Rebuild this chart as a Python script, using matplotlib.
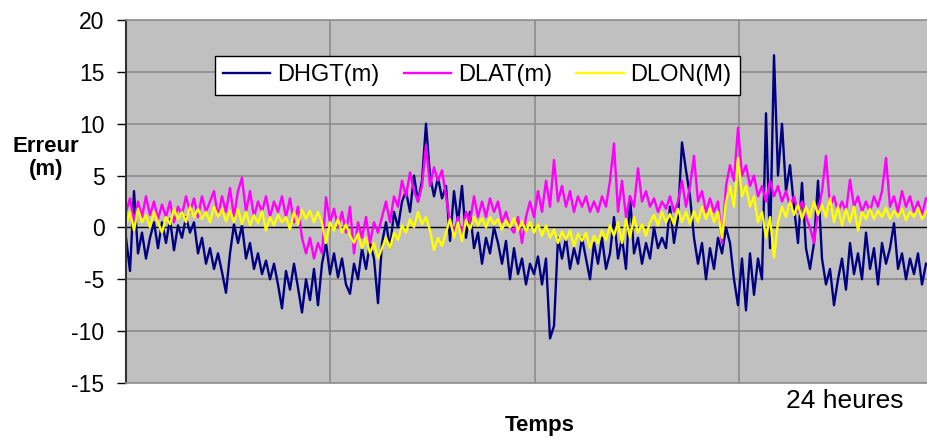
import numpy as np
import matplotlib
matplotlib.use("Agg")
import matplotlib.pyplot as plt

plt.rcParams["font.family"] = ["Liberation Sans", "DejaVu Sans"]

# one sample every ~7 minutes over the day
dhgt = [-1.0, -4.2, 3.5, -2.5, -0.5, -3.0, -1.0, 0.5, -2.0, 0.5,
        -1.5, 0.8, -2.2, 0.2, -1.0, 1.0, -0.5, 0.5, -2.5, -1.0,
        -3.5, -2.0, -4.0, -2.5, -4.3, -6.3, -2.5, 0.3, -1.5, 0.2,
        -3.0, -1.5, -4.0, -2.5, -4.5, -3.2, -5.0, -3.5, -5.5, -7.8,
        -4.2, -6.0, -3.5, -5.8, -8.2, -5.0, -7.0, -4.0, -7.5, -3.5,
        -1.5, -4.5, -2.5, -4.8, -3.0, -5.5, -6.4, -3.5, -5.0, -2.0,
        -4.0, -1.5, -3.0, -7.3, -1.5, 0.5, -2.0, 1.5, 0.0, 2.5,
        3.5, 1.5, 5.0, 2.5, 4.5, 10.0, 5.0, 3.0, 4.8, 2.8,
        4.0, -1.3, 3.5, 0.5, 4.0, -1.0, 1.5, -2.0, -0.5, -3.5,
        -1.0, -2.5, 0.0, -1.5, -3.5, -1.3, -5.0, -2.0, -4.5, -3.0,
        -5.5, -3.5, -4.5, -2.8, -5.5, -3.0, -10.7, -9.5, -1.0, -3.0,
        -1.0, -4.0, -2.0, -3.5, -1.0, -3.0, -5.0, -1.5, -3.5, -1.0,
        -4.0, -2.5, 1.0, -3.0, -1.0, -4.0, 3.0, -2.5, -1.0, -3.5,
        -1.5, -3.0, 0.0, -2.0, -1.0, -2.0, 2.0, -1.5, 1.0, 8.2,
        5.5, 3.0, -1.0, -3.5, -1.5, -5.0, -2.0, -4.0, -1.0, -2.5,
        0.0, -1.5, -5.0, -7.5, -3.0, -8.0, -2.5, -6.5, -3.0, -5.0,
        11.0, -2.0, 16.6, 5.0, 10.0, 3.5, 6.0, 2.0, -1.5, 4.3,
        -2.0, -4.0, -1.5, 4.5, -3.0, -5.5, -4.0, -7.5, -5.0, -3.0,
        -6.0, -1.5, -4.5, -2.5, -5.0, -0.5, -4.0, -2.0, -5.5, -1.5,
        -3.5, -2.0, 0.4, -4.0, -2.5, -5.0, -3.0, -4.5, -2.5, -5.5,
        -3.5]

dlat = [1.5, 2.8, 0.5, 2.5, 1.0, 3.0, 1.2, 2.5, 0.8, 2.2,
        1.0, 2.5, 0.5, 2.0, 1.2, 3.0, 1.5, 2.8, 1.0, 3.0,
        1.5, 2.5, 3.5, 1.0, 3.0, 1.5, 3.8, 1.0, 3.5, 4.8,
        1.5, 3.5, 1.0, 2.5, 1.5, 3.0, 1.0, 2.5, 1.5, 3.0,
        1.0, 2.8, 0.5, 2.0, -1.0, -2.5, -1.0, -3.0, -1.5, -2.5,
        2.9, 0.5, 1.8, 0.0, 1.5, -0.5, 2.0, -2.5, 0.5, -1.0,
        1.0, -1.5, 0.5, -0.5, 1.0, 2.5, 0.5, 3.0, 2.0, 4.5,
        3.0, 5.3, 3.5, 2.5, 4.0, 7.9, 4.0, 5.8, 4.5, 5.5,
        3.0, 0.5, -0.5, 1.0, -1.0, 1.5, 0.5, 3.0, 1.0, 2.5,
        1.0, 2.8, 1.5, 2.5, 0.5, 1.5, 0.0, -0.5, 1.0, -1.5,
        1.0, 2.5, 1.0, 3.5, 1.5, 4.5, 2.0, 6.5, 2.5, 4.0,
        2.0, 3.5, 1.5, 3.0, 2.0, 3.0, 1.5, 2.5, 1.5, 3.0,
        2.0, 4.5, 8.1, 1.5, 4.5, 1.0, 3.0, 2.0, 5.7, 2.5,
        3.5, 2.0, 2.8, 1.5, 2.5, 1.8, 3.0, 1.5, 2.5, 4.5,
        2.0, 4.0, 6.9, 2.5, 3.5, 1.5, 2.8, 1.5, 2.5, -1.5,
        4.0, 6.0, 4.5, 9.6, 5.0, 6.0, 4.0, 5.0, 3.0, 4.0,
        2.5, 4.5, 3.0, 4.0, 2.5, 3.5, 2.0, 3.0, 1.5, 2.5,
        1.0, 0.0, -1.5, 1.5, 3.5, 6.9, 2.0, 3.0, 1.5, 2.5,
        1.5, 4.6, 2.0, 3.0, 1.5, 2.5, 1.5, 3.0, 2.0, 3.5,
        6.7, 2.0, 3.0, 1.5, 3.5, 2.0, 3.0, 1.5, 2.5, 1.2,
        2.8]

dlon = [0.2, 1.5, -0.3, 1.8, 0.5, 1.2, 0.0, 1.5, 0.5, -0.5,
        1.0, 0.3, 1.8, 0.8, 1.5, 0.5, 2.0, 1.0, 1.8, 0.8,
        1.5, 0.5, 2.0, 1.0, 1.8, 0.6, 1.6, 0.5, 1.8, 0.3,
        1.5, 0.2, 1.2, 0.4, 1.6, -0.3, 1.0, 0.2, 1.2, 0.5,
        1.0, -0.2, 1.5, 0.3, 1.7, 0.8, 1.6, 0.5, 1.5, 0.4,
        -1.5, 0.5, -0.3, 0.8, -0.5, 0.3, -0.8, -1.5, -0.6, -2.0,
        -1.0, -2.5, -1.5, -3.0, -2.0, -1.0, -2.0, -0.5, -1.2, 0.2,
        -0.5, 0.8, 0.0, 1.5, 0.3, 1.0, -0.3, -2.2, -1.0, -1.8,
        -0.5, 0.8, -1.0, 0.5, -1.3, 0.7, -0.2, 1.0, 0.2, 0.9,
        0.0, 1.0, 0.3, 0.8, -0.2, 0.7, 0.0, 0.9, -0.3, 0.6,
        -0.4, 0.5, -0.5, 0.3, -0.8, 0.2, -1.0, -0.2, -1.5, -0.4,
        -1.2, -0.3, -1.8, -0.6, -1.3, -0.5, -2.0, -0.8, -1.5, -0.3,
        -1.2, 0.2, -0.8, 0.5, -1.5, 0.8, -1.0, 1.0, -0.5, 0.3,
        -0.8, 0.5, 1.2, 0.2, 1.5, 0.5, 1.3, 0.3, 1.8, 0.5,
        1.5, 0.3, 1.6, 0.5, 2.0, 0.8, 1.8, 0.5, 1.5, -1.0,
        2.5, 4.0, 2.0, 6.7, 3.0, 4.0, 2.0, 3.0, 0.5, 1.5,
        -1.0, 1.0, -2.9, 0.5, 2.0, 1.0, 2.5, 1.2, 2.2, 0.8,
        2.0, 1.0, 2.5, 1.2, 2.2, 1.0, 2.8, 0.5, 2.0, 0.2,
        1.8, 0.5, 2.0, -0.3, 1.5, 0.8, 1.8, 0.8, 1.6, 1.0,
        1.9, 0.8, 1.6, 1.0, 1.8, 0.7, 1.5, 1.0, 1.9, 0.8,
        1.5]

step_h = 24 / 204.5
t = np.arange(len(dhgt)) * step_h

W, H = 928, 441
fig = plt.figure(figsize=(W / 100, H / 100), dpi=100)
fig.patch.set_facecolor("white")

# plot area runs past the right edge of the picture (as in the original)
ax = fig.add_axes([126 / W, 1 - 383 / H, 818 / W, 363 / H])
ax.set_facecolor("#C0C0C0")

ax.plot(t, dhgt, color="#000080", lw=1.7, label="DHGT(m)")
ax.plot(t, dlat, color="#FF00FF", lw=1.7, label="DLAT(m)")
ax.plot(t, dlon, color="#FFFF00", lw=1.7, label="DLON(M)")

ax.set_xlim(0, 24)
ax.set_ylim(-15, 20)
ax.set_yticks([-15, -10, -5, 0, 5, 10, 15, 20])
ax.set_yticklabels(["-15", "-10", "-5", "0", "5", "10", "15", "20"])
ax.set_xticks([])

for y in [-10, -5, 5, 10, 15]:
    ax.axhline(y, color="#8C8C8C", lw=1.2, zorder=0.5)
for x in [6, 12, 18]:
    ax.axvline(x, color="#8C8C8C", lw=1.2, zorder=0.5)
ax.axhline(0, color="black", lw=1.0, zorder=0.6)

for s in ["top", "bottom", "right"]:
    ax.spines[s].set_color("#8C8C8C")
    ax.spines[s].set_linewidth(1.2)
ax.spines["left"].set_color("#333333")
ax.spines["left"].set_linewidth(1.5)

ax.tick_params(axis="y", direction="out", length=6.5, width=1, color="black",
               labelsize=16.5, pad=9)

fig.text(46 / W, 1 - 158 / H, "Erreur\n(m)", ha="center", va="center",
         fontsize=16, fontweight="bold", linespacing=1.15)
fig.text(540 / W, 1 - 425 / H, "Temps", ha="center", va="center",
         fontsize=16, fontweight="bold")
fig.text(845 / W, 1 - 401 / H, "24 heures", ha="center", va="center",
         fontsize=19)

leg = fig.legend(loc="center", ncol=3, mode="expand",
                 bbox_to_anchor=(215 / W, 1 - 98 / H, 525 / W, 45 / H),
                 fontsize=17, frameon=True, fancybox=False, framealpha=1,
                 edgecolor="black", handlelength=2.0, handletextpad=0.3,
                 borderaxespad=0, borderpad=0.35, columnspacing=0.3)
leg.get_frame().set_linewidth(1.0)

fig.savefig("out.png", dpi=100)
